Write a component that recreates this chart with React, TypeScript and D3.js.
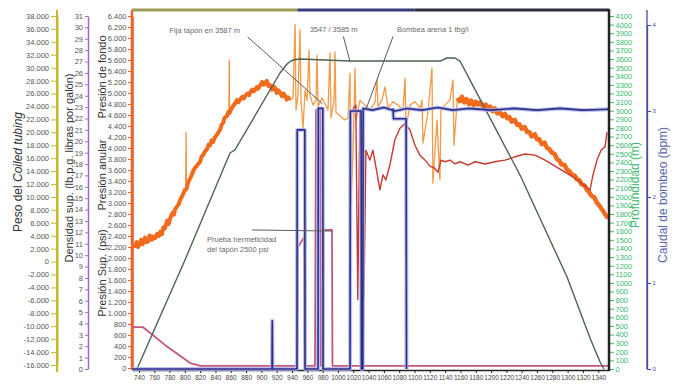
import React, { useEffect, useRef } from 'react';
import * as d3 from 'd3';

const WIDTH = 677;
const HEIGHT = 386;
const FONT = "'Liberation Sans', Arial, sans-serif";

// tiempo (min) vs presión de fondo (psi), antes y después de la zona de maniobras
const presionFondoIni: [number, number][] = [
  [735, 2180], [737, 2290], [739, 2200], [741, 2260], [743, 2330], [745, 2250], [748, 2370], [750, 2290],
  [752, 2300], [754, 2410], [757, 2330], [759, 2390], [761, 2360], [764, 2440], [766, 2400], [768, 2480],
  [770, 2430], [772, 2560], [774, 2540], [777, 2680], [779, 2620], [781, 2730], [784, 2820], [786, 2790],
  [787, 2880], [790, 2940], [792, 2980], [794, 3060], [796, 3110], [798, 3170], [800, 3240],
  [802, 3250], [804, 3360], [807, 3450], [809, 3510], [811, 3580], [813, 3640], [815, 3660], [818, 3720],
  [820, 3750], [822, 3850], [824, 3870], [826, 3930], [829, 3980], [831, 4060], [833, 4050], [835, 4140],
  [837, 4110], [839, 4190], [842, 4240], [844, 4290], [846, 4330], [848, 4420], [850, 4460], [852, 4550],
  [855, 4580], [857, 4660], [858.5, 4640], [861, 4720], [863, 4760], [865, 4800], [868, 4870],
  [870, 4830], [872, 4880], [875, 4930], [877, 4900], [879, 4950], [882, 4990], [884, 4960], [885, 5000],
  [888, 5060], [890, 5030], [892, 5060], [894, 5110], [896, 5080], [898, 5130], [901, 5200], [903, 5150],
  [905, 5190], [907, 5220], [909, 5130], [911, 5150], [914, 5060], [916, 5120], [918, 5090], [920, 5000],
  [922, 5050], [924, 5020], [927, 4940], [929, 4990], [931, 4950], [933, 4880], [935, 4920], [937, 4870],
];

// picos finos sobre la presión de fondo
const picosFondo: [number, number][][] = [
  [[801.2, 3240], [801.6, 4290], [802.2, 3260]],
  [[857.6, 4660], [858, 5600], [858.5, 4640]],
];

const presionFondoFin: [number, number][] = [
  [1156, 4910], [1159, 4850], [1162, 4930], [1165, 4830], [1168, 4890], [1171, 4800], [1174, 4860], [1177, 4780],
  [1180, 4840], [1183, 4790], [1186, 4830], [1190, 4740], [1193, 4790], [1196, 4700], [1199, 4750], [1202, 4670],
  [1205, 4720], [1208, 4630], [1211, 4660], [1215, 4580], [1218, 4620], [1221, 4540], [1224, 4560], [1227, 4480],
  [1231, 4510], [1234, 4420], [1237, 4430], [1240, 4350], [1244, 4380], [1247, 4290], [1250, 4290], [1253, 4210],
  [1257, 4250], [1260, 4160], [1263, 4160], [1266, 4070], [1270, 4100], [1273, 4000], [1276, 3980], [1279, 3920],
  [1283, 3890], [1286, 3800], [1289, 3770], [1292, 3700], [1296, 3690], [1299, 3610], [1302, 3580], [1305, 3520],
  [1309, 3500], [1312, 3430], [1315, 3420], [1318, 3340], [1322, 3320], [1325, 3240], [1328, 3200], [1331, 3130],
  [1335, 3100], [1338, 3010], [1341, 2960], [1344, 2900], [1347, 2840], [1350, 2770], [1353, 2720],
];

// presión durante las maniobras (trazo fino)
const presionManiobra: [number, number][] = [
  [937, 4870], [941.3, 4910], [942.6, 5600], [944, 6250], [945.2, 4690], [947.8, 4960], [950.4, 6150], [951.7, 4870],
  [954.4, 4360], [957, 5050], [959.6, 4870], [962.2, 5780], [963.5, 4960], [967.4, 4780], [971.3, 4870], [972.6, 5690],
  [974, 4750], [979.2, 4910], [983.1, 4800], [987, 4690], [989.6, 5730], [991, 4550], [994.9, 4870], [996.1, 5750],
  [997.4, 4650], [1001.4, 4600], [1005.3, 4550], [1009.2, 4510], [1013.1, 4550], [1015.7, 5360], [1017, 3000],
  [1019.7, 3960], [1022.3, 5450], [1023.6, 4510], [1028.8, 4870], [1035.3, 4780], [1041.9, 4690], [1048.4, 4840],
  [1051, 5240], [1052.3, 4750], [1057.5, 4870], [1061.5, 5110], [1065.4, 4730], [1071.9, 4840], [1078.4, 4780],
  [1085, 4690], [1087.6, 5270], [1088.9, 4380], [1094.1, 4780], [1100.6, 4840], [1107.2, 4730], [1109.8, 4870],
  [1111, 4090], [1117.5, 4650], [1122.8, 5450], [1124, 3360], [1129.3, 4510], [1133.2, 3420], [1134.5, 4690],
  [1139.8, 4780], [1146.3, 4870], [1150.3, 5240], [1151.5, 4050], [1156, 4910],
];

// presión anular (psi)
const presionAnular: [number, number][] = [
  [1019.3, 4690], [1023.3, 4780], [1025.9, 1240], [1028.6, 4690], [1031.4, 4510], [1034, 1290], [1036.5, 3960],
  [1041.7, 3780], [1045.6, 3960], [1050.8, 3560], [1054.8, 3240], [1058.7, 3510], [1062.6, 3420], [1067.8, 3690],
  [1074.3, 4150], [1080.9, 4360], [1087.4, 4440], [1094, 4330], [1100.5, 4050], [1107, 3870], [1113.6, 3780],
  [1120.1, 3670], [1125.4, 3640], [1130.6, 3560], [1134.6, 3780], [1139.8, 3750], [1146.3, 3780], [1152.9, 3710],
  [1159.4, 3750], [1169.9, 3690], [1179, 3750], [1192, 3710], [1205, 3750], [1218.2, 3780], [1231.2, 3840],
  [1244.3, 3890], [1257.4, 3870], [1270.4, 3780], [1283.5, 3670], [1296.5, 3560], [1309.6, 3450], [1322.7, 3310],
  [1329.2, 3240], [1333.1, 3510], [1338.3, 3780], [1343.6, 3960], [1348.8, 4020], [1351.4, 4290],
];

// presión en superficie (psi)
const presionSup: [number, number][] = [
  [731, 745], [745, 745], [774, 420], [807, 90], [820, 40], [946.5, 40], [947.8, 2200], [955.7, 2380], [957, 40],
  [970, 40], [971.3, 4690], [976.5, 4690], [977.8, 40], [980.5, 40], [981.1, 2510], [992.2, 2510], [992.8, 40],
  [1354, 40],
];

// profundidad (m)
const profundidad: [number, number][] = [
  [737.5, 0], [800.2, 1266], [859, 2509], [865.5, 2544], [924.3, 3438], [933.4, 3543], [938, 3575], [943, 3592],
  [950.4, 3600], [1015.7, 3577], [1133.2, 3577], [1142.4, 3612], [1152.9, 3612], [1159.4, 3577], [1172.5, 3356],
  [1237.8, 2253], [1299.2, 1069], [1329.2, 360], [1342.3, 81], [1347.5, 0],
];

// caudal de bombeo (bpm)
const caudal: [number, number][] = [
  [731, 0], [913.9, 0], [914.2, 0.56], [914.6, 0], [946.5, 0], [946.8, 2.78], [956.7, 2.78], [957, 0], [974, 0],
  [974.3, 3.03], [980.2, 3.03], [980.5, 0], [1015.8, 0], [1016.2, 3.0], [1030.2, 3.0], [1030.6, 0], [1032.5, 0],
  [1032.9, 3.03], [1045, 3.01], [1060, 3.04], [1075, 3.0], [1090, 3.03], [1110, 3.01], [1130, 3.04], [1150, 3.01],
  [1170, 3.03], [1200, 3.01], [1230, 3.03], [1260, 3.01], [1290, 3.03], [1320, 3.01], [1354, 3.02],
];
const caudal2: [number, number][] = [[1072, 3.03], [1072.5, 2.91], [1089, 2.91], [1089.5, 0]];

// tramos del borde superior (min)
const bordeSup = [731, 947, 1100, 1354];

const xTicks = d3.range(740, 1341, 20);
const pesoTicks = d3.range(-16000, 38001, 2000);
const densidadTicks = d3.range(0, 32, 1);
const presionTicks = d3.range(0, 6401, 200);
const profTicks = d3.range(0, 4101, 100);
const caudalTicks = [0, 1, 2, 3, 4];

const notas = [
  { lines: ['Fija tapón en 3587 m'], x: 780, p: 6090, from: [882, 6020], to: [980, 4800] },
  { lines: ['3547 / 3585 m'], x: 963, p: 6110, from: [1007, 6030], to: [1016, 5560] },
  { lines: ['Bombea arena 1 tbg/l'], x: 1077, p: 6110, from: [1072, 6030], to: [1037, 4720] },
  { lines: ['Prueba hermeticidad', 'del tapón 2500 psi'], x: 829, p: 2290, from: [888, 2510], to: [992, 2490] },
];

const App = () => {
  const svgRef = useRef<SVGSVGElement>(null);

  useEffect(() => {
    if (!svgRef.current) return;
    const svg = d3.select(svgRef.current);
    svg.selectAll('*').remove();
    svg.append('rect').attr('width', WIDTH).attr('height', HEIGHT).attr('fill', '#fff');

    const x = d3.scaleLinear().domain([731, 1354]).range([132, 609]);
    const yPsi = d3.scaleLinear().domain([0, 6400]).range([368, 16]);
    const yDen = d3.scaleLinear().domain([0, 31]).range([369, 16]);
    const yPeso = d3.scaleLinear().domain([-16000, 38000]).range([365, 16]);
    const yProf = d3.scaleLinear().domain([0, 4100]).range([369, 16]);
    const yBpm = d3.scaleLinear().domain([0, 4]).range([369, 25]);

    const locale = d3.formatLocale({ decimal: ',', thousands: '.', grouping: [3], currency: ['', ''], minus: '-' });
    const miles = locale.format(',d');

    const styleAxis = (g, line, text, size, width = 1) => {
      g.attr('font-family', FONT).attr('font-size', size);
      g.select('.domain').attr('stroke', line).attr('stroke-width', width);
      g.selectAll('.tick line').attr('stroke', line).attr('stroke-width', 1);
      g.selectAll('.tick text').attr('fill', text);
    };

    // ejes izquierdos
    svg.append('g').attr('transform', 'translate(57,0)')
      .call(d3.axisLeft(yPeso).tickValues(pesoTicks).tickFormat(miles).tickSize(6).tickSizeOuter(0).tickPadding(2))
      .call(g => styleAxis(g, '#c9b826', '#555', 7.5, 2));
    svg.append('line').attr('x1', 57).attr('x2', 57).attr('y1', 10).attr('y2', 372)
      .attr('stroke', '#c9b826').attr('stroke-width', 2);

    svg.append('g').attr('transform', 'translate(88,0)')
      .call(d3.axisLeft(yDen).tickValues(densidadTicks).tickFormat(d3.format('d')).tickSize(3).tickSizeOuter(0).tickPadding(2))
      .call(g => styleAxis(g, '#9b70c4', '#555', 7.5, 1.5));

    svg.append('g').attr('transform', 'translate(132,0)')
      .call(d3.axisLeft(yPsi).tickValues(presionTicks).tickFormat(miles).tickSize(4).tickSizeOuter(0).tickPadding(1.5))
      .call(g => styleAxis(g, '#f0602a', '#555', 7.5, 2.5));
    svg.append('line').attr('x1', 132).attr('x2', 132).attr('y1', 10).attr('y2', 370)
      .attr('stroke', '#f0602a').attr('stroke-width', 2.5);

    // eje x
    svg.append('g').attr('transform', 'translate(0,370)')
      .call(d3.axisBottom(x).tickValues(xTicks).tickFormat(d3.format('d')).tickSize(3).tickSizeOuter(0).tickPadding(2))
      .call(g => styleAxis(g, '#222', '#444', 6.5, 1.5));

    // ejes derechos
    svg.append('g').attr('transform', 'translate(610,0)')
      .call(d3.axisRight(yProf).tickValues(profTicks).tickFormat(d3.format('d')).tickSize(4).tickSizeOuter(0).tickPadding(1.5))
      .call(g => styleAxis(g, '#38b870', '#38b870', 7.5, 0));
    svg.append('g').attr('transform', 'translate(647,0)')
      .call(d3.axisRight(yBpm).tickValues(caudalTicks).tickFormat(d3.format('d')).tickSize(4).tickSizeOuter(0).tickPadding(1.5))
      .call(g => styleAxis(g, '#454ba6', '#454ba6', 6, 1.3));
    svg.append('line').attr('x1', 647).attr('x2', 647).attr('y1', 10).attr('y2', 369)
      .attr('stroke', '#454ba6').attr('stroke-width', 1.3);

    // series
    const linePsi = d3.line<[number, number]>().x(d => x(d[0])).y(d => yPsi(d[1]));
    const lineProf = d3.line<[number, number]>().x(d => x(d[0])).y(d => yProf(d[1]));
    const lineBpm = d3.line<[number, number]>().x(d => x(d[0])).y(d => yBpm(d[1]));

    const path = (d, color, w, op = 1) => svg.append('path').attr('d', d).attr('fill', 'none')
      .attr('stroke', color).attr('stroke-width', w).attr('stroke-opacity', op).attr('stroke-linejoin', 'round');

    path(linePsi(presionSup), '#c2587a', 1.8);
    path(linePsi(presionManiobra), '#f29a48', 1.3);
    picosFondo.forEach(p => path(linePsi(p), '#f08a3c', 1.2));
    path(linePsi(presionFondoIni), '#f26a1c', 4);
    path(linePsi(presionFondoFin), '#f26a1c', 4.5);
    path(linePsi(presionAnular), '#c63a30', 1.4);
    path(lineProf(profundidad), '#4c6650', 1.4);
    path(lineBpm(caudal), '#aab0ec', 4, 0.8);
    path(lineBpm(caudal2), '#aab0ec', 4, 0.8);
    path(lineBpm(caudal), '#2c2e86', 1.6);
    path(lineBpm(caudal2), '#2c2e86', 1.6);

    // marco
    const colores = ['#9d9b58', '#3a3c7c', '#2e2e3a'];
    for (let i = 0; i < bordeSup.length - 1; i++) {
      svg.append('line').attr('x1', x(bordeSup[i])).attr('x2', x(bordeSup[i + 1]))
        .attr('y1', 10).attr('y2', 10).attr('stroke', colores[i]).attr('stroke-width', 3);
    }
    svg.append('line').attr('x1', 609).attr('x2', 609).attr('y1', 9).attr('y2', 371)
      .attr('stroke', '#222').attr('stroke-width', 2.5);

    // anotaciones
    notas.forEach(n => {
      svg.append('line').attr('x1', x(n.from[0])).attr('y1', yPsi(n.from[1]))
        .attr('x2', x(n.to[0])).attr('y2', yPsi(n.to[1])).attr('stroke', '#5a5a5a').attr('stroke-width', 1);
      n.lines.forEach((t, i) => {
        svg.append('text').attr('x', x(n.x)).attr('y', yPsi(n.p) + i * 10)
          .attr('font-family', FONT).attr('font-size', 7.5).attr('fill', '#6a6a6a').text(t);
      });
    });

    // títulos de ejes
    const titulo = (parts, cx, cy, color, size) => {
      const t = svg.append('text').attr('transform', `translate(${cx},${cy}) rotate(-90)`)
        .attr('text-anchor', 'middle').attr('font-family', FONT).attr('font-size', size).attr('fill', color);
      parts.forEach(([s, it]) => t.append('tspan').attr('font-style', it ? 'italic' : 'normal').text(s));
    };
    titulo([['Peso del ', false], ['Coiled tubing', true]], 22, 172, '#333', 12);
    titulo([['Densidad sup. (lb.p.g. libras por galón)', false]], 72.5, 168, '#333', 11);
    titulo([['Presión de fondo', false]], 106, 77, '#333', 11);
    titulo([['Presión anular', false]], 106, 175, '#333', 11);
    titulo([['Presión Sup. (psi)', false]], 106, 273, '#333', 11);
    titulo([['Profundidad (m)', false]], 639, 185, '#38b870', 12);
    titulo([['Caudal de bombeo (bpm)', false]], 667, 195, '#5b5fb0', 12);
  }, []);

  return <svg ref={svgRef} width={WIDTH} height={HEIGHT} style={{ position: 'absolute', left: 0, top: 0 }} />;
};

export default App;
